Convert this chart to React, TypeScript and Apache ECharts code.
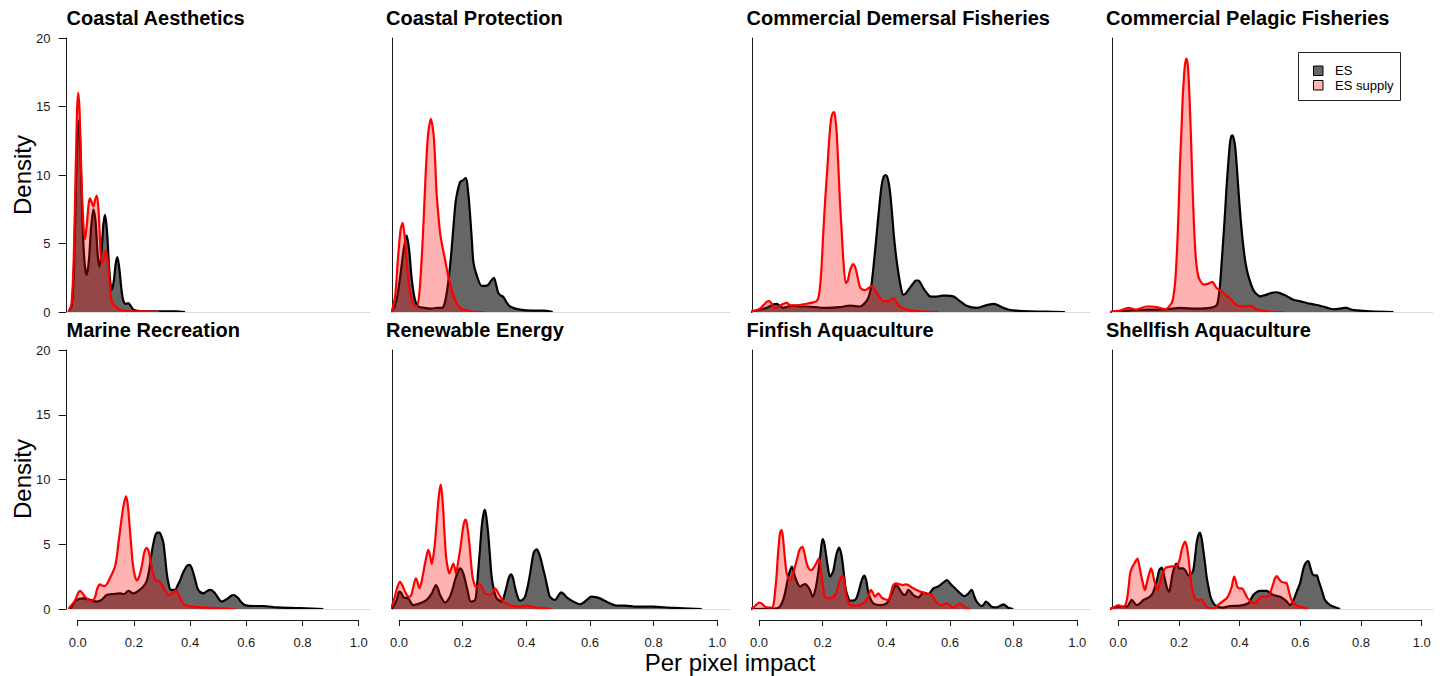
import React, { useEffect, useRef } from "react";
import * as echarts from "echarts";

type Pt = [number, number];

const panelTitles = [
  "Coastal Aesthetics",
  "Coastal Protection",
  "Commercial Demersal Fisheries",
  "Commercial Pelagic Fisheries",
  "Marine Recreation",
  "Renewable Energy",
  "Finfish Aquaculture",
  "Shellfish Aquaculture",
];
const legendLabels = ["ES", "ES supply"];
const xAxisTitle = "Per pixel impact";
const yAxisTitle = "Density";
const yTickStep = 5;
const yMax = 20;
const xTickStep = 0.2;

// ---- Coastal Aesthetics ----
const esAesthetics: Pt[] = [[-0.033,0],[-0.021,0.5],[-0.013,3.5],[-0.006,9.5],[0,13],[0.005,14.0],[0.011,11],[0.018,6],[0.025,3.5],[0.032,2.7],[0.04,3.8],[0.048,6.2],[0.056,7.5],[0.064,6.5],[0.071,4.2],[0.077,3.3],[0.084,4.2],[0.091,6.3],[0.097,7.1],[0.104,6.0],[0.112,3.2],[0.121,1.6],[0.128,2.2],[0.135,3.5],[0.141,4.0],[0.148,3.2],[0.156,1.6],[0.163,0.8],[0.172,0.6],[0.18,0.65],[0.19,0.4],[0.198,0.17],[0.22,0.07],[0.26,0.05],[0.3,0.05],[0.35,0.04],[0.382,0]];
const supAesthetics: Pt[] = [[-0.033,0],[-0.022,0.6],[-0.014,4],[-0.007,10.5],[-0.002,14.8],[0.002,16.0],[0.007,14.5],[0.013,10],[0.02,6.5],[0.026,5.3],[0.033,6.5],[0.039,7.9],[0.044,8.3],[0.05,8.0],[0.056,7.7],[0.062,8.2],[0.068,8.5],[0.074,7.5],[0.08,5.0],[0.085,3.6],[0.093,3.9],[0.101,4.5],[0.108,3.5],[0.115,1.8],[0.121,0.8],[0.13,0.5],[0.15,0.17],[0.18,0.07],[0.22,0.05],[0.26,0.03],[0.29,0]];

// ---- Coastal Protection ----
const esProtection: Pt[] = [[-0.028,0],[-0.015,0.3],[-0.005,1.2],[0.005,2.8],[0.015,4.6],[0.024,5.6],[0.032,4.5],[0.04,2.4],[0.05,0.9],[0.061,0.4],[0.08,0.3],[0.1,0.25],[0.12,0.3],[0.135,0.3],[0.143,0.6],[0.15,1.4],[0.158,2.8],[0.165,4.5],[0.172,6.5],[0.179,8.2],[0.192,9.5],[0.2,9.6],[0.21,9.8],[0.217,8.8],[0.223,7.2],[0.229,5.2],[0.234,3.6],[0.244,2.7],[0.26,1.9],[0.272,1.9],[0.281,2.0],[0.29,2.3],[0.298,2.5],[0.305,2.0],[0.312,1.4],[0.32,1.2],[0.328,1.1],[0.338,0.7],[0.349,0.4],[0.38,0.17],[0.42,0.1],[0.453,0.1],[0.483,0]];
const supProtection: Pt[] = [[-0.023,0],[-0.012,1.2],[-0.003,4.0],[0.005,6.0],[0.0115,6.5],[0.018,5.5],[0.026,3.2],[0.035,1.4],[0.045,0.6],[0.056,0.4],[0.064,1.4],[0.071,3.8],[0.077,6.5],[0.082,9.2],[0.087,11.5],[0.092,13.1],[0.1,14.1],[0.105,13.6],[0.11,12.6],[0.114,10.8],[0.118,8.7],[0.124,7.0],[0.129,5.8],[0.137,4.7],[0.145,3.8],[0.152,2.9],[0.16,2.1],[0.168,1.4],[0.176,0.9],[0.192,0.3],[0.223,0.05],[0.27,0]];

// ---- Commercial Demersal Fisheries ----
const esDemersal: Pt[] = [[-0.028,0],[0.0,0.15],[0.024,0.3],[0.04,0.5],[0.055,0.6],[0.076,0.3],[0.092,0.4],[0.108,0.46],[0.13,0.4],[0.15,0.4],[0.18,0.35],[0.202,0.3],[0.23,0.32],[0.254,0.36],[0.286,0.46],[0.317,0.4],[0.338,0.8],[0.347,1.3],[0.354,2.1],[0.364,4.3],[0.375,7.0],[0.385,9.2],[0.392,9.9],[0.399,10.0],[0.406,9.6],[0.412,8.7],[0.418,7.2],[0.424,5.5],[0.431,4.0],[0.438,2.85],[0.445,1.9],[0.453,1.27],[0.461,1.35],[0.469,1.6],[0.485,2.1],[0.493,2.3],[0.501,2.3],[0.508,2.1],[0.516,1.75],[0.527,1.4],[0.537,1.14],[0.55,1.12],[0.563,1.14],[0.577,1.2],[0.59,1.2],[0.61,1.14],[0.62,1.0],[0.631,0.8],[0.652,0.46],[0.684,0.3],[0.715,0.5],[0.738,0.6],[0.762,0.36],[0.78,0.2],[0.799,0.12],[0.851,0.05],[0.9,0.03],[0.961,0]];
const supDemersal: Pt[] = [[-0.034,0],[-0.015,0.1],[0,0.2],[0.014,0.5],[0.025,0.75],[0.032,0.8],[0.04,0.6],[0.05,0.3],[0.058,0.35],[0.066,0.46],[0.077,0.6],[0.087,0.66],[0.097,0.5],[0.11,0.48],[0.124,0.5],[0.15,0.6],[0.17,0.7],[0.181,0.8],[0.187,1.1],[0.192,1.9],[0.197,3.5],[0.202,5.8],[0.208,8.2],[0.215,10.6],[0.22,12.4],[0.226,14.0],[0.231,14.5],[0.236,14.6],[0.24,14.1],[0.244,13.1],[0.249,10.8],[0.254,8.2],[0.26,5.8],[0.265,3.8],[0.273,2.1],[0.279,2.3],[0.284,2.85],[0.29,3.3],[0.296,3.5],[0.302,3.3],[0.307,2.85],[0.313,2.2],[0.319,1.75],[0.333,1.6],[0.345,1.75],[0.354,1.9],[0.362,1.7],[0.37,1.4],[0.38,1.05],[0.39,0.8],[0.406,0.8],[0.414,0.9],[0.422,1.0],[0.43,0.8],[0.438,0.5],[0.45,0.3],[0.464,0.17],[0.506,0.05],[0.563,0]];

// ---- Commercial Pelagic Fisheries ----
const esPelagic: Pt[] = [[-0.027,0],[0.039,0.12],[0.093,0.17],[0.16,0.2],[0.203,0.3],[0.258,0.24],[0.302,0.3],[0.324,0.5],[0.33,1.0],[0.335,1.9],[0.34,3.4],[0.346,5.3],[0.352,7.3],[0.357,9.2],[0.363,11.0],[0.368,12.3],[0.372,12.8],[0.376,12.9],[0.38,12.7],[0.385,12.1],[0.39,10.8],[0.396,8.9],[0.404,6.6],[0.412,4.8],[0.42,3.5],[0.429,2.6],[0.445,1.6],[0.456,1.3],[0.467,1.14],[0.478,1.2],[0.489,1.27],[0.505,1.4],[0.522,1.44],[0.533,1.38],[0.544,1.27],[0.56,1.1],[0.577,0.9],[0.6,0.78],[0.621,0.66],[0.643,0.56],[0.665,0.46],[0.687,0.32],[0.709,0.2],[0.73,0.24],[0.745,0.3],[0.753,0.3],[0.765,0.2],[0.786,0.12],[0.83,0.05],[0.907,0]];
const supPelagic: Pt[] = [[-0.033,0],[0.006,0.1],[0.033,0.3],[0.06,0.17],[0.093,0.4],[0.11,0.4],[0.126,0.36],[0.154,0.2],[0.176,0.66],[0.182,1.2],[0.187,2.1],[0.192,3.8],[0.196,5.8],[0.2,8.3],[0.203,10.6],[0.208,13.2],[0.212,15.5],[0.216,17.0],[0.219,17.9],[0.224,18.5],[0.228,18.2],[0.231,17.4],[0.235,15.5],[0.239,13.1],[0.243,10.3],[0.247,7.7],[0.251,5.6],[0.256,3.8],[0.261,2.9],[0.267,2.4],[0.282,2.0],[0.297,2.07],[0.304,2.15],[0.31,2.2],[0.317,2.0],[0.324,1.75],[0.335,1.6],[0.346,1.4],[0.368,1.0],[0.38,0.7],[0.39,0.5],[0.412,0.4],[0.434,0.46],[0.445,0.35],[0.456,0.2],[0.489,0.05],[0.546,0]];

// ---- Marine Recreation ----
const esRecreation: Pt[] = [[-0.027,0],[-0.015,0.4],[-0.004,0.7],[0.02,0.82],[0.044,0.7],[0.068,0.57],[0.085,0.7],[0.103,1.08],[0.127,1.16],[0.151,1.2],[0.165,1.16],[0.18,1.4],[0.198,1.2],[0.222,1.5],[0.236,1.8],[0.246,2.2],[0.255,3.1],[0.263,4.3],[0.275,5.6],[0.284,5.9],[0.291,5.9],[0.298,5.6],[0.305,5.1],[0.311,4.0],[0.317,2.75],[0.324,1.9],[0.331,1.47],[0.346,1.47],[0.355,1.8],[0.364,2.2],[0.373,2.7],[0.382,3.1],[0.39,3.35],[0.398,3.4],[0.405,3.2],[0.412,2.75],[0.42,2.1],[0.429,1.47],[0.447,1.2],[0.46,1.38],[0.471,1.47],[0.48,1.4],[0.489,1.2],[0.5,0.85],[0.512,0.57],[0.53,0.75],[0.545,1.0],[0.554,1.08],[0.563,1.0],[0.572,0.82],[0.583,0.5],[0.595,0.3],[0.625,0.23],[0.661,0.23],[0.708,0.13],[0.767,0.08],[0.874,0]];
const supRecreation: Pt[] = [[-0.033,0],[-0.02,0.35],[-0.009,0.7],[0.002,1.25],[0.008,1.4],[0.016,1.25],[0.026,0.95],[0.044,0.64],[0.056,0.7],[0.063,1.0],[0.068,1.47],[0.074,1.8],[0.079,1.9],[0.088,1.8],[0.097,1.78],[0.106,2.0],[0.115,2.4],[0.124,2.8],[0.133,3.3],[0.139,4.0],[0.145,5.1],[0.151,6.1],[0.157,7.1],[0.164,8.1],[0.172,8.7],[0.178,8.1],[0.184,6.6],[0.19,5.0],[0.196,3.5],[0.203,2.6],[0.21,2.2],[0.216,2.35],[0.222,2.75],[0.229,3.4],[0.236,4.3],[0.242,4.65],[0.246,4.7],[0.252,4.5],[0.257,4.0],[0.264,3.2],[0.272,2.5],[0.28,2.2],[0.287,2.2],[0.296,2.0],[0.305,1.7],[0.314,1.3],[0.323,1.08],[0.335,1.2],[0.342,1.33],[0.35,1.4],[0.357,1.2],[0.364,0.82],[0.373,0.5],[0.382,0.3],[0.412,0.18],[0.459,0.1],[0.507,0.05],[0.56,0]];

// ---- Renewable Energy ----
const esRenewable: Pt[] = [[-0.023,0],[-0.015,0.3],[-0.007,0.7],[0.001,1.34],[0.008,1.2],[0.014,0.9],[0.029,0.82],[0.045,0.3],[0.066,0.44],[0.087,0.7],[0.103,1.2],[0.11,1.6],[0.116,1.85],[0.122,1.6],[0.129,1.08],[0.145,0.49],[0.16,0.95],[0.168,1.5],[0.176,2.24],[0.184,2.8],[0.192,3.14],[0.202,2.75],[0.215,1.47],[0.226,0.57],[0.239,0.7],[0.244,1.5],[0.249,3.0],[0.255,4.8],[0.26,6.4],[0.265,7.3],[0.27,7.65],[0.275,7.0],[0.281,5.6],[0.286,4.0],[0.291,2.5],[0.298,1.5],[0.307,0.82],[0.323,0.57],[0.33,1.0],[0.338,1.72],[0.345,2.4],[0.352,2.68],[0.358,2.4],[0.364,1.72],[0.372,1.0],[0.38,0.64],[0.388,0.7],[0.396,0.95],[0.404,1.7],[0.412,2.75],[0.418,3.7],[0.424,4.4],[0.433,4.6],[0.439,4.35],[0.445,3.9],[0.452,3.2],[0.459,2.5],[0.467,1.6],[0.474,0.95],[0.49,0.7],[0.5,1.0],[0.509,1.29],[0.518,1.15],[0.527,0.9],[0.548,0.57],[0.569,0.36],[0.58,0.5],[0.59,0.7],[0.605,0.95],[0.618,0.92],[0.631,0.82],[0.658,0.49],[0.684,0.26],[0.71,0.26],[0.747,0.18],[0.799,0.18],[0.851,0.1],[0.951,0]];
const supRenewable: Pt[] = [[-0.028,0],[-0.02,0.4],[-0.013,0.95],[-0.005,1.7],[0.003,2.1],[0.011,1.8],[0.019,1.34],[0.027,1.0],[0.035,0.95],[0.04,1.2],[0.045,1.72],[0.053,2.37],[0.058,2.1],[0.064,1.6],[0.07,2.0],[0.076,2.75],[0.084,3.8],[0.092,4.56],[0.098,4.1],[0.103,3.5],[0.108,4.1],[0.113,5.1],[0.117,6.3],[0.121,7.6],[0.126,8.9],[0.131,9.6],[0.135,8.9],[0.139,7.6],[0.143,5.8],[0.148,4.0],[0.153,3.2],[0.158,2.75],[0.164,3.1],[0.171,3.5],[0.175,3.2],[0.179,2.75],[0.185,3.5],[0.192,4.56],[0.197,5.5],[0.202,6.4],[0.206,6.8],[0.21,6.9],[0.215,6.3],[0.221,5.1],[0.226,3.7],[0.231,2.5],[0.237,1.9],[0.242,1.72],[0.248,1.8],[0.254,1.93],[0.262,1.6],[0.27,1.2],[0.288,1.08],[0.295,1.35],[0.302,1.6],[0.308,1.4],[0.315,1.08],[0.328,0.57],[0.349,0.3],[0.375,0.18],[0.401,0.26],[0.432,0.1],[0.48,0]];

// ---- Finfish Aquaculture ----
const esFinfish: Pt[] = [[-0.028,0],[0.056,0.05],[0.066,0.2],[0.076,0.7],[0.084,1.5],[0.092,2.5],[0.098,3.0],[0.103,3.27],[0.108,3.0],[0.113,2.5],[0.121,2.0],[0.129,1.72],[0.137,1.85],[0.145,1.93],[0.153,1.75],[0.16,1.47],[0.169,0.95],[0.175,1.3],[0.181,1.98],[0.187,3.0],[0.192,4.0],[0.196,4.9],[0.2,5.4],[0.205,5.1],[0.21,4.3],[0.216,3.3],[0.223,2.5],[0.229,2.7],[0.234,3.0],[0.239,3.7],[0.244,4.3],[0.252,4.74],[0.258,4.3],[0.263,3.5],[0.268,2.4],[0.273,1.47],[0.28,0.9],[0.286,0.64],[0.302,0.7],[0.31,1.1],[0.317,1.72],[0.324,2.3],[0.331,2.57],[0.337,2.2],[0.343,1.34],[0.35,0.8],[0.359,0.44],[0.38,0.3],[0.401,0.44],[0.41,0.8],[0.417,1.2],[0.424,1.6],[0.43,1.85],[0.437,1.7],[0.443,1.47],[0.452,1.15],[0.459,1.08],[0.465,1.3],[0.469,1.47],[0.476,1.35],[0.485,1.08],[0.501,0.9],[0.516,1.26],[0.532,1.16],[0.548,1.6],[0.559,1.7],[0.569,1.85],[0.58,2.05],[0.59,2.24],[0.598,2.05],[0.605,1.85],[0.616,1.6],[0.626,1.34],[0.635,1.15],[0.644,1.0],[0.651,1.05],[0.658,1.2],[0.668,1.47],[0.676,1.0],[0.684,0.57],[0.7,0.23],[0.706,0.35],[0.713,0.57],[0.722,0.4],[0.731,0.18],[0.747,0.13],[0.758,0.25],[0.768,0.36],[0.783,0.1],[0.799,0]];
const supFinfish: Pt[] = [[-0.034,0],[-0.018,0.1],[-0.008,0.35],[0.001,0.5],[0.01,0.4],[0.019,0.18],[0.04,0.1],[0.046,0.4],[0.05,1.2],[0.055,2.5],[0.059,4.0],[0.063,5.2],[0.066,5.85],[0.071,6.1],[0.075,5.6],[0.079,4.56],[0.083,3.5],[0.087,2.75],[0.093,2.3],[0.099,2.24],[0.106,2.6],[0.113,3.27],[0.12,3.9],[0.127,4.56],[0.136,4.8],[0.143,4.3],[0.15,3.5],[0.157,3.1],[0.165,3.0],[0.172,3.2],[0.179,3.5],[0.188,3.9],[0.193,3.4],[0.197,2.5],[0.202,1.6],[0.207,0.95],[0.223,0.82],[0.239,1.08],[0.247,1.6],[0.254,2.24],[0.263,2.57],[0.268,2.1],[0.273,1.2],[0.28,0.6],[0.286,0.3],[0.307,0.26],[0.328,0.44],[0.336,0.65],[0.343,0.95],[0.352,1.47],[0.358,1.25],[0.364,0.95],[0.375,1.2],[0.385,0.9],[0.395,0.75],[0.406,0.7],[0.414,1.2],[0.422,1.85],[0.432,1.98],[0.443,1.9],[0.453,1.85],[0.461,1.9],[0.469,1.85],[0.485,1.6],[0.506,1.34],[0.527,1.2],[0.542,1.08],[0.55,0.8],[0.558,0.49],[0.574,0.3],[0.59,0.44],[0.6,0.3],[0.61,0.1],[0.62,0.25],[0.631,0.44],[0.64,0.3],[0.647,0.13],[0.663,0]];

// ---- Shellfish Aquaculture ----
const esShellfish: Pt[] = [[-0.027,0],[-0.01,0.15],[0,0.18],[0.028,0.18],[0.036,0.4],[0.044,0.7],[0.052,0.5],[0.061,0.3],[0.072,0.45],[0.083,0.7],[0.104,0.95],[0.113,1.2],[0.121,1.72],[0.128,2.3],[0.135,3.0],[0.143,3.2],[0.149,2.8],[0.154,2.24],[0.161,1.6],[0.168,1.34],[0.173,1.9],[0.179,2.75],[0.186,3.3],[0.192,3.5],[0.201,3.14],[0.214,3.14],[0.223,2.9],[0.231,2.6],[0.24,2.7],[0.247,3.0],[0.253,4.0],[0.258,5.07],[0.264,5.7],[0.269,5.9],[0.275,5.4],[0.28,4.56],[0.286,3.5],[0.291,2.5],[0.298,1.6],[0.304,0.95],[0.312,0.5],[0.319,0.3],[0.341,0.1],[0.368,0.23],[0.401,0.26],[0.429,0.44],[0.437,0.75],[0.445,1.08],[0.456,1.3],[0.467,1.4],[0.489,1.4],[0.5,1.25],[0.511,1.08],[0.533,0.95],[0.549,0.7],[0.558,0.5],[0.566,0.3],[0.574,0.5],[0.582,0.95],[0.59,1.45],[0.599,1.98],[0.605,2.6],[0.612,3.27],[0.619,3.6],[0.626,3.7],[0.632,3.3],[0.639,2.75],[0.646,2.6],[0.654,2.6],[0.66,2.2],[0.667,1.72],[0.674,1.2],[0.681,0.7],[0.698,0.3],[0.719,0.1],[0.731,0]];
const supShellfish: Pt[] = [[-0.033,0],[-0.016,0.1],[0,0.3],[0.017,0.1],[0.028,0.7],[0.034,1.7],[0.039,2.75],[0.045,3.2],[0.05,3.4],[0.057,3.7],[0.063,3.9],[0.068,3.5],[0.074,2.75],[0.081,2.0],[0.088,1.47],[0.093,1.9],[0.099,2.5],[0.104,2.9],[0.108,3.14],[0.113,2.8],[0.118,2.24],[0.124,1.8],[0.129,1.47],[0.136,1.9],[0.143,2.5],[0.154,3.14],[0.17,3.27],[0.187,3.32],[0.198,3.5],[0.204,4.0],[0.209,4.56],[0.215,5.0],[0.22,5.2],[0.226,4.8],[0.231,4.0],[0.236,2.9],[0.242,1.72],[0.25,1.0],[0.258,0.7],[0.266,0.72],[0.275,0.75],[0.283,0.45],[0.291,0.18],[0.313,0.05],[0.335,0.44],[0.357,0.82],[0.366,1.2],[0.374,1.72],[0.378,2.2],[0.382,2.5],[0.387,2.2],[0.392,1.72],[0.4,1.6],[0.407,1.6],[0.418,1.2],[0.426,0.85],[0.434,0.64],[0.45,0.44],[0.461,0.7],[0.472,0.95],[0.494,0.95],[0.503,1.4],[0.511,1.98],[0.516,2.35],[0.522,2.55],[0.53,2.3],[0.538,2.1],[0.546,2.05],[0.555,1.98],[0.563,1.3],[0.571,0.7],[0.58,0.45],[0.588,0.26],[0.621,0.05],[0.626,0]];

const esSeries: Pt[][] = [esAesthetics, esProtection, esDemersal, esPelagic, esRecreation, esRenewable, esFinfish, esShellfish];
const supplySeries: Pt[][] = [supAesthetics, supProtection, supDemersal, supPelagic, supRecreation, supRenewable, supFinfish, supShellfish];

// ---- layout (pixels) ----
const colLayout = [
  { axis: 66.5, zero: 77.7, one: 358.7, end: 370, title: 66.5 },
  { axis: 392.5, zero: 399, one: 717.3, end: 730, title: 386 },
  { axis: 752.5, zero: 759, one: 1077.3, end: 1090, title: 746.5 },
  { axis: 1112, zero: 1118.3, one: 1421.7, end: 1433, title: 1106 },
];
const rowLayout = [
  { top: 38, bottom: 312, titleY: 17.5, nameY: 175 },
  { top: 350, bottom: 609, titleY: 329.8, nameY: 479 },
];
const FONT = '"Liberation Sans", Arial, Helvetica, sans-serif';
const AXIS_COLOR = "#1a1a1a";

function buildOption() {
  const grid: any[] = [];
  const xAxis: any[] = [];
  const yAxis: any[] = [];
  const series: any[] = [];
  const graphic: any[] = [];

  for (let i = 0; i < 8; i++) {
    const c = colLayout[i % 4];
    const r = rowLayout[Math.floor(i / 4)];
    const ppu = c.one - c.zero;
    grid.push({ left: c.axis, top: r.top, width: c.end - c.axis, height: r.bottom - r.top });
    xAxis.push({
      type: "value", gridIndex: i, show: false,
      min: (c.axis - c.zero) / ppu, max: (c.end - c.zero) / ppu,
    });
    const showTicks = i % 4 === 0;
    yAxis.push({
      type: "value", gridIndex: i, min: 0, max: yMax, interval: yTickStep,
      axisLine: { show: true, onZero: false, lineStyle: { color: AXIS_COLOR, width: 1 } },
      axisTick: { show: showTicks, length: 8, lineStyle: { color: AXIS_COLOR } },
      axisLabel: { show: showTicks, margin: 16, color: AXIS_COLOR, fontSize: 13, fontFamily: FONT },
      splitLine: { show: false },
    });
    series.push({
      type: "line", xAxisIndex: i, yAxisIndex: i, data: esSeries[i],
      name: legendLabels[0], smooth: 0.3, symbol: "none", clip: false, z: 2,
      lineStyle: { color: "#000", width: 2.2 },
      areaStyle: { color: "rgba(0,0,0,0.6)", opacity: 1, origin: "start" },
      markLine: {
        silent: true, symbol: "none", label: { show: false },
        lineStyle: { color: "#d9d9d9", width: 1, type: "solid" },
        data: [{ yAxis: 0 }],
      },
    });
    series.push({
      type: "line", xAxisIndex: i, yAxisIndex: i, data: supplySeries[i],
      name: legendLabels[1], smooth: 0.3, symbol: "none", clip: false, z: 3,
      lineStyle: { color: "#ff0000", width: 2.2 },
      areaStyle: { color: "rgba(255,0,0,0.3)", opacity: 1, origin: "start" },
    });
    graphic.push({
      type: "text", x: c.title, y: r.titleY, silent: true,
      style: {
        text: panelTitles[i], fill: "#000", font: `bold 20px ${FONT}`,
        align: "left", verticalAlign: "middle", textAlign: "left", textVerticalAlign: "middle",
      },
    });
  }

  // separate x axes (0..1) for bottom row
  for (let j = 0; j < 4; j++) {
    const c = colLayout[j];
    const gi = 8 + j;
    grid.push({ left: c.zero, top: 619, width: c.one - c.zero, height: 1 });
    xAxis.push({
      type: "value", gridIndex: gi, min: 0, max: 1, interval: xTickStep, position: "bottom",
      axisLine: { show: true, onZero: false, lineStyle: { color: AXIS_COLOR, width: 1 } },
      axisTick: { show: true, length: 6, lineStyle: { color: AXIS_COLOR } },
      axisLabel: {
        show: true, margin: 16, color: AXIS_COLOR, fontSize: 13, fontFamily: FONT,
        formatter: (v: number) => v.toFixed(1),
      },
      splitLine: { show: false },
    });
    yAxis.push({ type: "value", gridIndex: gi, min: 0, max: 1, show: false });
  }

  // axis titles
  for (let r = 0; r < 2; r++) {
    graphic.push({
      type: "text", x: 22, y: rowLayout[r].nameY, rotation: Math.PI / 2, silent: true,
      style: {
        text: yAxisTitle, fill: "#000", font: `24px ${FONT}`,
        align: "center", verticalAlign: "middle", textAlign: "center", textVerticalAlign: "middle",
      },
    });
  }
  graphic.push({
    type: "text", x: 730, y: 662, silent: true,
    style: {
      text: xAxisTitle, fill: "#000", font: `24px ${FONT}`,
      align: "center", verticalAlign: "middle", textAlign: "center", textVerticalAlign: "middle",
    },
  });

  // legend
  graphic.push({
    type: "group", silent: true,
    children: [
      { type: "rect", shape: { x: 1298.5, y: 52.5, width: 102, height: 48 }, style: { fill: "#fff", stroke: "#222", lineWidth: 1 } },
      { type: "rect", shape: { x: 1313.5, y: 66, width: 9.5, height: 9.5 }, style: { fill: "#666666", stroke: "#000", lineWidth: 1 } },
      { type: "rect", shape: { x: 1313.5, y: 80.5, width: 9.5, height: 9.5 }, style: { fill: "#ffb3b3", stroke: "#000", lineWidth: 1 } },
      { type: "text", x: 1335, y: 70.8, style: { text: legendLabels[0], fill: "#000", font: `13px ${FONT}`, align: "left", verticalAlign: "middle", textAlign: "left", textVerticalAlign: "middle" } },
      { type: "text", x: 1335, y: 85.5, style: { text: legendLabels[1], fill: "#000", font: `13px ${FONT}`, align: "left", verticalAlign: "middle", textAlign: "left", textVerticalAlign: "middle" } },
    ],
  });

  return {
    animation: false,
    backgroundColor: "#fff",
    textStyle: { fontFamily: FONT },
    grid, xAxis, yAxis, series, graphic,
  };
}

export default function App() {
  const ref = useRef<HTMLDivElement>(null);
  useEffect(() => {
    if (!ref.current) return;
    const chart = echarts.init(ref.current, undefined, { renderer: "svg" });
    chart.setOption(buildOption() as any);
    return () => chart.dispose();
  }, []);
  return (
    <div
      ref={ref}
      style={{ position: "fixed", left: 0, top: 0, width: 1445, height: 676, background: "#fff" }}
    />
  );
}
